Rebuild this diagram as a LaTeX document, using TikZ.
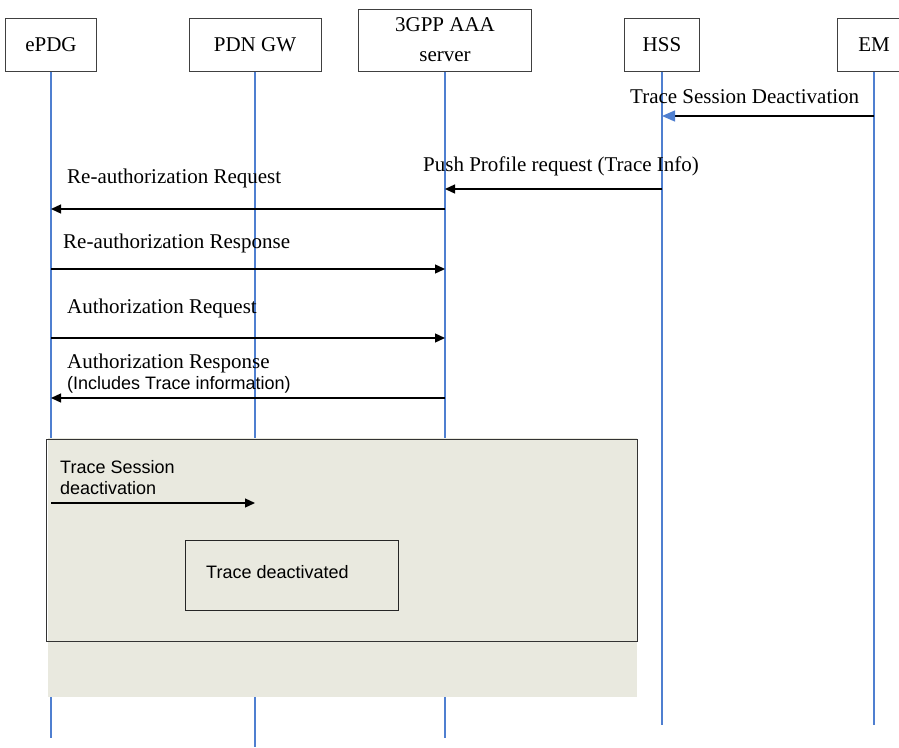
\documentclass[tikz,border=0pt]{standalone}
\usepackage{fontspec}
\setmainfont{Liberation Serif}
\setsansfont{Liberation Sans}
\usetikzlibrary{arrows.meta,positioning}

\definecolor{lifeblue}{HTML}{4F7FD0}
\definecolor{areagray}{HTML}{E9E9DF}

\tikzset{
  head/.style={draw=black!75,line width=1pt,minimum height=53pt,align=center,
    font=\fontsize{21}{30}\selectfont},
  life/.style={lifeblue,line width=1.1pt},
  msg/.style={-{Triangle[length=10pt,width=9pt]},line width=1.3pt},
  lbl/.style={anchor=base west,inner sep=0pt,font=\fontsize{21}{25}\selectfont},
  slbl/.style={anchor=base west,inner sep=0pt,font=\sffamily\fontsize{18}{21}\selectfont}
}

\begin{document}
\begin{tikzpicture}[x=1pt,y=-1pt]
\useasboundingbox (0,0) rectangle (899,747);

% heads
\foreach \nm/\x/\w/\txt in {ePDG/51/91/ePDG, PDN/255/132/PDN GW, HSS/662/75/HSS, EM/874/74/EM}
  \node[head,minimum width=\w pt] (\nm) at (\x,44.5) {\txt};
\node[head,minimum width=173pt,minimum height=62pt] (AAA) at (445,40) {3GPP AAA\\server};

% lifelines
\foreach \nm/\b in {ePDG/738,PDN/747,AAA/738,HSS/725,EM/725}
{
  \coordinate (\nm-end) at (\nm |- 0,\b);
  \draw[life] (\nm.south) -- (\nm-end);
}

% messages
\node[lbl] (tsdlbl) at (630,103) {Trace Session Deactivation};
\draw[line width=1.3pt,-{Triangle[length=13pt,width=11pt,color=lifeblue]}] (EM |- 0,116) -- (HSS |- 0,116);

\node[lbl] (pushlbl) at (423,171) {Push Profile request (Trace Info)};
\draw[msg] (HSS |- 0,189) -- (AAA |- 0,189);

\node[lbl] (rareqlbl) at (67,183) {Re-authorization Request};
\draw[msg] (AAA |- 0,209) -- (ePDG |- 0,209);

\node[lbl] (raresplbl) at (63,248) {Re-authorization Response};
\draw[msg] (ePDG |- 0,269) -- (AAA |- 0,269);

\node[lbl] (areqlbl) at (67,313) {Authorization Request};
\draw[msg] (ePDG |- 0,338) -- (AAA |- 0,338);

\node[lbl] (aresplbl) at (67,368) {Authorization Response};
\node[slbl] (incllbl) at (67,389) {(Includes Trace information)};
\draw[msg] (AAA |- 0,398) -- (ePDG |- 0,398);

% trace deactivation area
\fill[areagray] (48,438) rectangle (637,697);
\draw[black!80,line width=1pt] (46,439) rectangle (637,641);

\node[slbl] (tslbl) at (60,473) {Trace Session};
\node[slbl] (dealbl) at (60,494) {deactivation};
\draw[msg] (ePDG |- 0,503) -- (PDN |- 0,503);

\node[draw=black!85,line width=1pt,fill=areagray,minimum width=213pt,minimum height=70pt,
  anchor=north west] (trdeact) at (185,540) {};
\node[slbl] (trdeactlbl) at ([xshift=21pt,yshift=-38pt]trdeact.north west) {Trace deactivated};
\end{tikzpicture}
\end{document}
